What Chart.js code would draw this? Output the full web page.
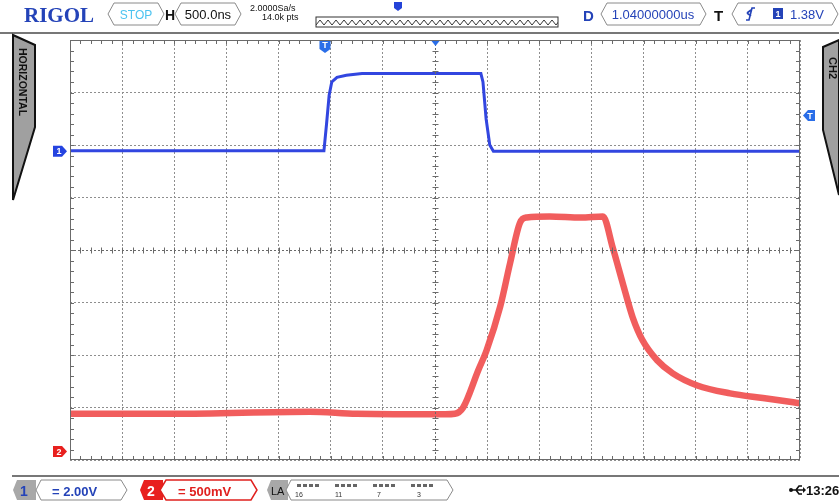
<!DOCTYPE html>
<html>
<head>
<meta charset="utf-8">
<script src="https://cdn.jsdelivr.net/npm/chart.js@4.4.0/dist/chart.umd.min.js"></script>
<style>
  body { margin: 0; width: 839px; height: 502px; overflow: hidden; background: #fff; position: relative;
         font-family: "Liberation Sans", Arial, sans-serif; }
  #scope { position: absolute; left: 0; top: 0; }
  svg { position: absolute; overflow: visible; }
</style>
</head>
<body>
<canvas id="scope" width="839" height="502"></canvas>

<!-- top status bar -->
<svg style="left:0;top:0" width="839" height="36">
  <defs>
    <pattern id="zz" width="8" height="9" patternUnits="userSpaceOnUse" x="316" y="18">
      <polyline points="0,7 4,2 8,7" fill="none" stroke="#333" stroke-width="1"/>
    </pattern>
  </defs>
  <text x="24" y="22" font-family="Liberation Serif, serif" font-weight="bold" font-size="21" fill="#2443b8">RIGOL</text>
  <polygon points="108,14 114,3 158,3 164,14 158,25 114,25" fill="#fff" stroke="#8a8a8a"/>
  <text x="136" y="19" text-anchor="middle" font-size="12" fill="#4cc3f0">STOP</text>
  <text x="165" y="20" font-size="14" font-weight="bold" fill="#111">H</text>
  <polygon points="175,14 181,3 235,3 241,14 235,25 181,25" fill="#fff" stroke="#8a8a8a"/>
  <text x="208" y="19" text-anchor="middle" font-size="13" fill="#111">500.0ns</text>
  <text x="250" y="11" font-size="9" fill="#111">2.0000Sa/s</text>
  <text x="262" y="20" font-size="9" fill="#111">14.0k pts</text>
  <rect x="316" y="17" width="242" height="10" fill="url(#zz)" stroke="#333"/>
  <path d="M394,2 h8 v6 l-4,3 l-4,-3 z" fill="#2443d8"/>
  <text x="583" y="21" font-size="15" font-weight="bold" fill="#2443b8">D</text>
  <polygon points="601,14 607,3 700,3 706,14 700,25 607,25" fill="#fff" stroke="#8a8a8a"/>
  <text x="653" y="19" text-anchor="middle" font-size="13" fill="#2443b8">1.04000000us</text>
  <text x="714" y="21" font-size="15" font-weight="bold" fill="#111">T</text>
  <polygon points="732,14 738,3 832,3 838,14 832,25 738,25" fill="#fff" stroke="#8a8a8a"/>
  <path d="M746,20 h3 l3,-12 h3 M747,13 l4,-3 M747,13 l4,3" fill="none" stroke="#2443b8" stroke-width="1.6"/>
  <rect x="773" y="8" width="10" height="11" fill="#2443b8"/>
  <text x="778" y="17" text-anchor="middle" font-size="9" font-weight="bold" fill="#fff">1</text>
  <text x="790" y="19" font-size="13" fill="#2443b8">1.38V</text>
  <line x1="0" y1="33" x2="839" y2="33" stroke="#777" stroke-width="2"/>
</svg>

<!-- left menu tab -->
<svg style="left:0;top:0" width="40" height="210">
  <polygon points="13,35 35,45 35,127 13,200" fill="#a0a0a0" stroke="#111" stroke-width="2"/>
  <text transform="translate(19,48) rotate(90)" font-size="10.5" font-weight="bold" fill="#111">HORIZONTAL</text>
</svg>

<!-- right menu tab -->
<svg style="left:0;top:0" width="839" height="210">
  <polygon points="823,47 839,40 839,195 823,130" fill="#a0a0a0" stroke="#111" stroke-width="2"/>
  <text transform="translate(829,57) rotate(90)" font-size="11" font-weight="bold" fill="#111">CH2</text>
</svg>

<!-- bottom status bar -->
<svg style="left:0;top:470" width="839" height="32">
  <line x1="12" y1="6" x2="839" y2="6" stroke="#777" stroke-width="2"/>
  <polygon points="13,20 17,10 36,10 36,30 17,30" fill="#a8a8a8"/>
  <text x="20" y="26" font-size="14" font-weight="bold" fill="#2443b8">1</text>
  <polygon points="36,20 41,10 121,10 127,20 121,30 41,30" fill="#fff" stroke="#8a8a8a"/>
  <text x="52" y="26" font-size="13" fill="#2443b8" font-weight="bold">=  2.00V</text>
  <polygon points="140,20 144,10 163,10 163,30 144,30" fill="#e8201e"/>
  <text x="147" y="26" font-size="14" font-weight="bold" fill="#fff">2</text>
  <polygon points="160,20 166,10 251,10 257,20 251,30 166,30" fill="#fff" stroke="#e0201e" stroke-width="1.5"/>
  <text x="178" y="26" font-size="13" fill="#e0201e" font-weight="bold">=  500mV</text>
  <polygon points="267,20 271,10 288,10 288,30 271,30" fill="#a8a8a8"/>
  <text x="271" y="25" font-size="11" fill="#111">LA</text>
  <polygon points="286,20 291,10 447,10 453,20 447,30 291,30" fill="#fff" stroke="#8a8a8a"/>
  <g fill="#666">
    <rect x="297" y="14" width="4" height="3"/><rect x="303" y="14" width="4" height="3"/><rect x="309" y="14" width="4" height="3"/><rect x="315" y="14" width="4" height="3"/>
    <rect x="335" y="14" width="4" height="3"/><rect x="341" y="14" width="4" height="3"/><rect x="347" y="14" width="4" height="3"/><rect x="353" y="14" width="4" height="3"/>
    <rect x="373" y="14" width="4" height="3"/><rect x="379" y="14" width="4" height="3"/><rect x="385" y="14" width="4" height="3"/><rect x="391" y="14" width="4" height="3"/>
    <rect x="411" y="14" width="4" height="3"/><rect x="417" y="14" width="4" height="3"/><rect x="423" y="14" width="4" height="3"/><rect x="429" y="14" width="4" height="3"/>
  </g>
  <g font-size="7" fill="#333">
    <text x="295" y="27">16</text><text x="335" y="27">11</text><text x="377" y="27">7</text><text x="417" y="27">3</text>
  </g>
  <path d="M791,20 h12 M796,20 l3,-4 h3 M796,20 l3,4 h3" fill="none" stroke="#111" stroke-width="1.6"/>
  <circle cx="791" cy="20" r="2" fill="#111"/>
  <path d="M803,17 l3,3 l-3,3 z" fill="#111"/>
  <text x="806" y="25" font-size="13" font-weight="bold" fill="#111">13:26</text>
</svg>

<script>
// screen divisions: 14 horizontal (500 ns/div), 8 vertical
const ch1Time = [0, 4.87, 4.92, 4.97, 5.02, 5.12, 5.3, 5.6, 6.5, 7.88, 7.92, 7.98, 8.05, 8.12, 14];
const ch1Level = [1.89, 1.89, 2.4, 2.95, 3.2, 3.29, 3.33, 3.36, 3.36, 3.36, 3.2, 2.5, 2.0, 1.88, 1.88];

const ch2Time = [0, 2, 4.6, 5.5, 7.2, 7.38, 7.54, 7.83, 7.99, 8.25, 8.44, 8.63, 8.76, 9.2, 9.8,
                 10.22, 10.41, 10.6, 10.79, 10.98, 11.26, 11.56, 12.03, 12.66, 13.29, 13.87, 14];
const ch2Level = [-3.12, -3.12, -3.08, -3.12, -3.13, -3.12, -3.0, -2.29, -1.91, -1.08, -0.25, 0.52, 0.62, 0.64, 0.62,
                  0.64, 0.04, -0.63, -1.28, -1.72, -2.1, -2.35, -2.58, -2.73, -2.82, -2.9, -2.92];

const ch1Ground = 1.88;   // marker "1"
const ch2Ground = -3.84;  // marker "2"
const trigTime = 4.89;    // top "T" marker
const trigLevel = 2.56;   // right "T" marker (1.38 V)

const toPoints = (t, v) => t.map((x, i) => ({ x: x, y: v[i] }));

// frame, minor ticks, centre cross and channel markers
const scopeDecor = {
  id: "scopeDecor",
  afterDraw(chart) {
    const { ctx, chartArea: a, scales: { x, y } } = chart;
    ctx.save();
    ctx.strokeStyle = "#6b6b6b";
    ctx.lineWidth = 1;
    ctx.strokeRect(a.left + 0.5, a.top + 0.5, a.right - a.left - 1, a.bottom - a.top - 1);

    const cx = Math.round(x.getPixelForValue(7)) + 0.5;
    const cy = Math.round(y.getPixelForValue(0)) + 0.5;
    ctx.strokeStyle = "#6a6a6a";
    ctx.setLineDash([2, 2]);
    ctx.beginPath();
    ctx.moveTo(a.left, cy); ctx.lineTo(a.right, cy);
    ctx.moveTo(cx, a.top); ctx.lineTo(cx, a.bottom);
    ctx.stroke();
    ctx.setLineDash([]);

    ctx.beginPath();
    for (let i = 1; i < 70; i++) {
      const px = Math.round(x.getPixelForValue(i / 5)) + 0.5;
      ctx.moveTo(px, a.top); ctx.lineTo(px, a.top + 4);
      ctx.moveTo(px, a.bottom); ctx.lineTo(px, a.bottom - 4);
      ctx.moveTo(px, cy - 3); ctx.lineTo(px, cy + 3);
    }
    for (let i = -19; i < 20; i++) {
      const py = Math.round(y.getPixelForValue(i / 5)) + 0.5;
      ctx.moveTo(a.left, py); ctx.lineTo(a.left + 4, py);
      ctx.moveTo(a.right, py); ctx.lineTo(a.right - 4, py);
      ctx.moveTo(cx - 3, py); ctx.lineTo(cx + 3, py);
    }
    ctx.stroke();

    const tag = (px, py, dir, color, label) => {
      ctx.fillStyle = color;
      ctx.beginPath();
      if (dir === "right") {
        ctx.moveTo(px - 14, py - 5.5); ctx.lineTo(px - 5, py - 5.5); ctx.lineTo(px, py);
        ctx.lineTo(px - 5, py + 5.5); ctx.lineTo(px - 14, py + 5.5);
      } else if (dir === "left") {
        ctx.moveTo(px + 12, py - 5.5); ctx.lineTo(px + 5, py - 5.5); ctx.lineTo(px, py);
        ctx.lineTo(px + 5, py + 5.5); ctx.lineTo(px + 12, py + 5.5);
      } else {
        ctx.moveTo(px - 5.5, py - 12); ctx.lineTo(px + 5.5, py - 12); ctx.lineTo(px + 5.5, py - 4);
        ctx.lineTo(px, py); ctx.lineTo(px - 5.5, py - 4);
      }
      ctx.closePath();
      ctx.fill();
      ctx.fillStyle = "#fff";
      ctx.font = "bold 9px 'Liberation Sans'";
      ctx.textAlign = "center";
      ctx.textBaseline = "middle";
      if (dir === "right") ctx.fillText(label, px - 8, py + 0.5);
      else if (dir === "left") ctx.fillText(label, px + 7, py + 0.5);
      else ctx.fillText(label, px, py - 7);
    };
    tag(a.left - 3, y.getPixelForValue(ch1Ground), "right", "#2443e0", "1");
    tag(a.left - 3, y.getPixelForValue(ch2Ground), "right", "#e8201e", "2");
    tag(a.right + 3, y.getPixelForValue(trigLevel), "left", "#2a6ee8", "T");
    tag(x.getPixelForValue(trigTime), a.top + 13, "down", "#2a6ee8", "T");

    ctx.fillStyle = "#2a6ee8";
    ctx.beginPath();
    ctx.moveTo(cx - 4, a.top + 1); ctx.lineTo(cx + 4, a.top + 1); ctx.lineTo(cx, a.top + 6);
    ctx.closePath();
    ctx.fill();
    ctx.restore();
  }
};

new Chart(document.getElementById("scope"), {
  type: "line",
  data: {
    datasets: [{
      label: "CH1",
      data: toPoints(ch1Time, ch1Level),
      borderColor: "#3246e0",
      borderWidth: 3,
      pointRadius: 0,
      tension: 0
    }, {
      label: "CH2",
      data: toPoints(ch2Time, ch2Level),
      borderColor: "rgba(240, 84, 84, 0.95)",
      borderWidth: 6.5,
      pointRadius: 0,
      cubicInterpolationMode: "monotone"
    }]
  },
  options: {
    responsive: false,
    animation: false,
    layout: { padding: { left: 70, top: 40, right: 39, bottom: 42 } },
    plugins: { legend: { display: false }, tooltip: { enabled: false } },
    scales: {
      x: {
        type: "linear", min: 0, max: 14,
        ticks: { display: false, stepSize: 1 },
        grid: { color: "#8e8e8e", drawTicks: false },
        border: { display: false, dash: [2, 2] }
      },
      y: {
        type: "linear", min: -4, max: 4,
        ticks: { display: false, stepSize: 1 },
        grid: { color: "#8e8e8e", drawTicks: false },
        border: { display: false, dash: [2, 2] }
      }
    }
  },
  plugins: [scopeDecor]
});
</script>
</body>
</html>
